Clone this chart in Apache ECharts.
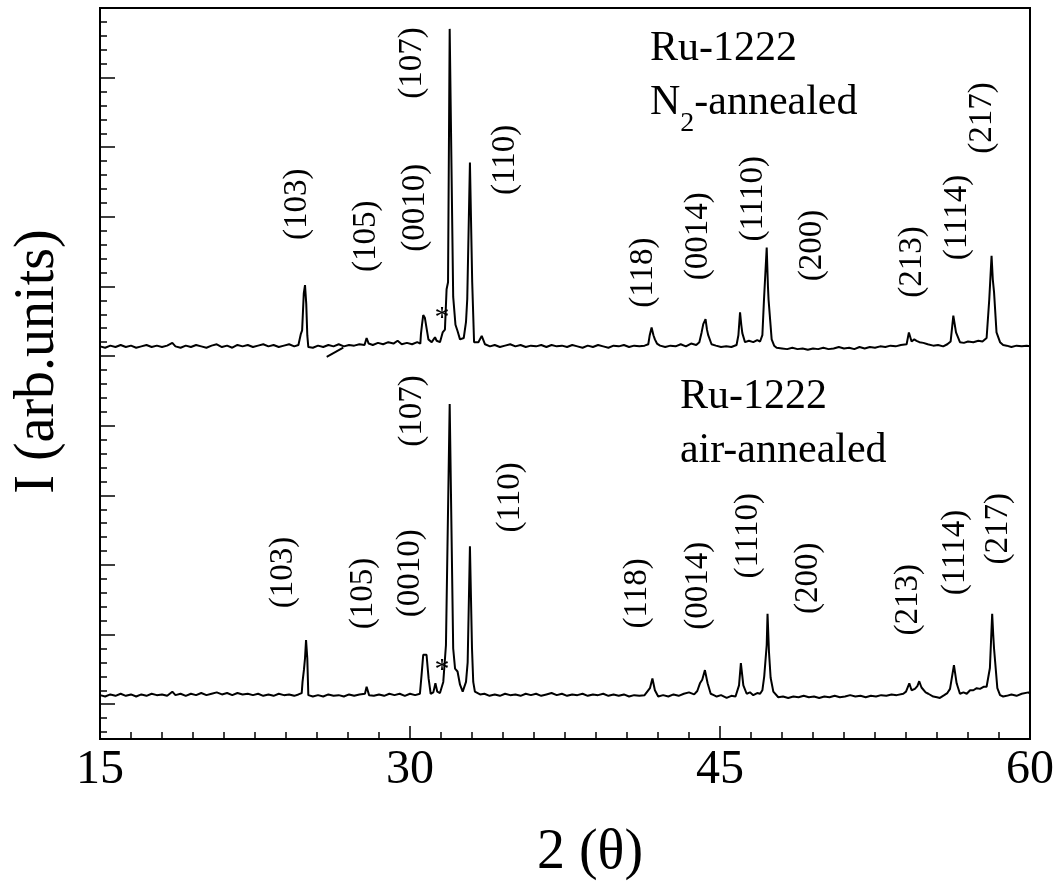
<!DOCTYPE html>
<html>
<head>
<meta charset="utf-8">
<title>Ru-1222 XRD</title>
<script src="https://cdn.jsdelivr.net/npm/echarts@6/dist/echarts.min.js"></script>
<style>
  html, body { margin: 0; padding: 0; background: #fff; }
  #chart { width: 1061px; height: 886px; }
</style>
</head>
<body>
<div id="chart"></div>
<script>
// 2theta (deg) vs intensity (arb. units), N2-annealed sample (upper trace)
const n2Trace = [
  [15.0,5.14],[15.25,5.12],[15.5,5.15],[15.75,5.13],[16.0,5.16],[16.25,5.13],[16.5,5.15],[16.75,5.12],
  [17.0,5.14],[17.25,5.16],[17.5,5.13],[17.75,5.15],[18.0,5.13],[18.25,5.15],[18.5,5.19],[18.65,5.14],
  [18.9,5.12],[19.15,5.15],[19.4,5.13],[19.65,5.16],[19.9,5.14],[20.15,5.12],[20.4,5.15],[20.65,5.17],
  [20.9,5.13],[21.15,5.15],[21.4,5.12],[21.65,5.16],[21.9,5.14],[22.15,5.16],[22.4,5.13],[22.65,5.15],
  [22.9,5.17],[23.15,5.14],[23.4,5.16],[23.65,5.13],[23.9,5.15],[24.15,5.17],[24.4,5.14],[24.6,5.16],
  [24.68,5.17],[24.72,5.32],[24.78,5.37],[24.86,5.9],[24.92,6.02],[24.98,5.75],[25.03,5.3],[25.08,5.13],
  [25.3,5.12],[25.55,5.15],[25.8,5.13],[26.05,5.16],[26.3,5.14],[26.55,5.17],[26.8,5.14],[27.05,5.16],
  [27.3,5.15],[27.55,5.17],[27.8,5.16],[27.9,5.26],[28.0,5.18],[28.2,5.16],[28.45,5.19],[28.7,5.17],
  [28.95,5.2],[29.2,5.18],[29.4,5.22],[29.6,5.17],[29.85,5.19],[30.1,5.17],[30.35,5.2],[30.5,5.18],
  [30.53,5.32],[30.58,5.45],[30.64,5.59],[30.72,5.55],[30.8,5.57],[30.89,5.24],[31.05,5.2],[31.21,5.27],
  [31.29,5.22],[31.45,5.2],[31.58,5.34],[31.69,5.38],[31.77,5.96],[31.84,6.06],[31.92,9.7],[32.09,5.85],
  [32.2,5.45],[32.3,5.36],[32.42,5.24],[32.5,5.22],[32.6,5.26],[32.71,5.49],[32.77,5.82],[32.9,7.78],
  [33.01,6.06],[33.1,5.2],[33.31,5.2],[33.47,5.29],[33.63,5.17],[33.87,5.14],
  [34.1,5.16],[34.35,5.13],[34.6,5.15],[34.85,5.17],[35.1,5.14],[35.35,5.16],[35.6,5.13],[35.85,5.15],
  [36.1,5.14],[36.35,5.16],[36.6,5.13],[36.85,5.16],[37.1,5.14],[37.35,5.15],[37.6,5.13],[37.85,5.16],
  [38.1,5.14],[38.35,5.12],[38.6,5.15],[38.85,5.13],[39.1,5.16],[39.35,5.14],[39.6,5.12],[39.85,5.15],
  [40.1,5.14],[40.35,5.16],[40.6,5.13],[40.85,5.15],[41.1,5.14],[41.35,5.15],
  [41.53,5.17],[41.6,5.3],[41.69,5.41],[41.78,5.3],[41.85,5.24],[41.95,5.18],[42.1,5.15],[42.35,5.13],
  [42.6,5.15],[42.85,5.14],[43.1,5.17],[43.35,5.14],[43.6,5.18],[43.85,5.16],[44.0,5.2],
  [44.11,5.34],[44.19,5.46],[44.3,5.53],[44.37,5.38],[44.43,5.3],[44.59,5.17],[44.8,5.15],[45.05,5.13],
  [45.3,5.14],[45.55,5.13],[45.8,5.16],
  [45.89,5.3],[45.97,5.63],[46.03,5.45],[46.08,5.33],[46.21,5.2],[46.4,5.22],[46.61,5.2],[46.8,5.23],
  [46.94,5.21],[47.05,5.3],[47.13,5.82],[47.26,6.56],[47.32,6.0],[47.35,5.81],[47.42,5.8],[47.5,5.24],
  [47.62,5.15],[47.74,5.12],
  [48.0,5.11],[48.25,5.1],[48.5,5.12],[48.75,5.1],[49.0,5.11],[49.25,5.09],[49.5,5.11],[49.75,5.1],
  [50.0,5.12],[50.25,5.1],[50.5,5.11],[50.75,5.13],[51.0,5.11],[51.25,5.12],[51.5,5.1],[51.75,5.13],
  [52.0,5.11],[52.25,5.13],[52.5,5.12],[52.75,5.14],[53.0,5.13],[53.25,5.15],[53.5,5.14],[53.75,5.16],
  [54.03,5.17],[54.14,5.34],[54.27,5.21],[54.4,5.24],[54.51,5.22],[54.65,5.2],[54.84,5.19],[55.05,5.17],
  [55.32,5.15],[55.55,5.16],[55.8,5.14],[56.0,5.17],[56.16,5.21],[56.29,5.58],[56.36,5.45],[56.42,5.34],
  [56.61,5.2],[56.8,5.19],[57.0,5.21],[57.26,5.2],[57.5,5.22],[57.7,5.21],[57.9,5.26],[58.03,5.82],
  [58.14,6.44],[58.2,6.1],[58.26,5.92],[58.32,5.9],[58.38,5.34],[58.55,5.2],[58.7,5.16],[58.87,5.15],
  [59.1,5.13],[59.35,5.15],[59.6,5.14],[59.84,5.15],[60.0,5.14]
];

// air-annealed sample (lower trace)
const airTrace = [
  [15.0,0.13],[15.25,0.11],[15.5,0.14],[15.75,0.12],[16.0,0.15],[16.25,0.12],[16.5,0.14],[16.75,0.11],
  [17.0,0.14],[17.25,0.12],[17.5,0.15],[17.75,0.13],[18.0,0.14],[18.25,0.12],[18.5,0.18],[18.65,0.13],
  [18.9,0.15],[19.15,0.12],[19.4,0.15],[19.65,0.13],[19.9,0.16],[20.15,0.13],[20.4,0.15],[20.65,0.17],
  [20.9,0.14],[21.15,0.16],[21.4,0.13],[21.65,0.16],[21.9,0.14],[22.15,0.15],[22.4,0.13],[22.65,0.15],
  [22.9,0.12],[23.15,0.14],[23.4,0.12],[23.65,0.15],[23.9,0.13],[24.15,0.14],[24.4,0.12],[24.6,0.14],
  [24.76,0.16],[24.8,0.32],[24.87,0.5],[24.92,0.66],[24.97,0.92],[25.03,0.66],[25.08,0.13],[25.3,0.11],
  [25.55,0.13],[25.8,0.11],[26.05,0.14],[26.3,0.12],[26.55,0.13],[26.8,0.11],[27.05,0.14],[27.3,0.12],
  [27.55,0.14],[27.82,0.15],[27.9,0.25],[28.02,0.13],[28.25,0.12],[28.5,0.14],[28.75,0.12],[29.0,0.15],
  [29.25,0.13],[29.5,0.15],[29.75,0.12],[30.0,0.15],[30.25,0.13],[30.48,0.15],
  [30.56,0.42],[30.64,0.71],[30.72,0.69],[30.8,0.71],[30.9,0.37],[31.0,0.15],[31.13,0.17],[31.23,0.3],
  [31.32,0.18],[31.45,0.16],[31.61,0.32],[31.74,0.85],[31.92,4.31],[32.09,0.8],[32.18,0.51],[32.3,0.47],
  [32.42,0.28],[32.55,0.18],[32.71,0.32],[32.79,0.6],[32.9,2.27],[33.0,0.8],[33.06,0.32],[33.14,0.18],
  [33.39,0.14],[33.6,0.15],[33.85,0.12],
  [34.1,0.14],[34.35,0.12],[34.6,0.15],[34.85,0.13],[35.1,0.14],[35.35,0.12],[35.6,0.15],[35.85,0.13],
  [36.1,0.15],[36.35,0.12],[36.6,0.14],[36.85,0.16],[37.1,0.13],[37.35,0.15],[37.6,0.12],[37.85,0.14],
  [38.1,0.13],[38.35,0.15],[38.6,0.12],[38.85,0.14],[39.1,0.13],[39.35,0.15],[39.6,0.12],[39.85,0.14],
  [40.1,0.12],[40.35,0.14],[40.6,0.11],[40.85,0.13],[41.1,0.12],[41.35,0.13],
  [41.61,0.23],[41.73,0.37],[41.85,0.2],[42.01,0.11],[42.25,0.13],[42.5,0.11],[42.75,0.14],[43.0,0.12],
  [43.25,0.15],[43.5,0.17],[43.75,0.14],[43.9,0.19],[44.03,0.3],[44.14,0.35],[44.27,0.49],[44.4,0.3],
  [44.55,0.15],[44.7,0.13],[44.84,0.11],[45.05,0.13],[45.32,0.09],[45.55,0.12],[45.75,0.11],
  [45.92,0.27],[46.01,0.59],[46.13,0.27],[46.29,0.15],[46.45,0.17],[46.61,0.13],[46.8,0.16],[46.94,0.15],
  [47.05,0.2],[47.14,0.4],[47.26,0.85],[47.3,1.3],[47.37,0.75],[47.45,0.38],[47.58,0.18],[47.82,0.1],
  [48.05,0.11],[48.3,0.09],[48.55,0.11],[48.8,0.1],[49.05,0.12],[49.3,0.1],[49.55,0.11],[49.8,0.09],
  [50.05,0.11],[50.3,0.1],[50.55,0.12],[50.8,0.1],[51.05,0.11],[51.3,0.13],[51.55,0.11],[51.8,0.12],
  [52.05,0.1],[52.3,0.12],[52.55,0.11],[52.8,0.13],[53.05,0.12],[53.3,0.14],[53.55,0.13],[53.87,0.15],
  [54.0,0.18],[54.16,0.3],[54.27,0.2],[54.43,0.22],[54.55,0.26],[54.64,0.33],[54.75,0.24],[54.84,0.22],
  [54.95,0.17],[55.08,0.15],[55.32,0.11],[55.5,0.1],[55.64,0.09],[55.85,0.13],[56.0,0.16],[56.13,0.22],
  [56.32,0.56],[56.45,0.3],[56.61,0.15],[56.78,0.17],[56.94,0.15],[57.1,0.2],[57.26,0.2],[57.42,0.23],
  [57.58,0.22],[57.75,0.25],[57.9,0.25],[58.06,0.52],[58.17,1.3],[58.22,1.0],[58.26,0.8],[58.32,0.78],
  [58.42,0.23],[58.55,0.13],[58.7,0.11],[58.87,0.12],[59.1,0.14],[59.35,0.12],[59.6,0.15],[59.92,0.17],
  [60.0,0.15]
];

// short stray stroke under the upper trace
const strayMark = [[25.97,4.99],[26.77,5.12]];

// Miller indices of the labelled reflections
const peakNames = ['(103)','(105)','(0010)','(107)','(110)','(118)','(0014)','(1110)','(200)','(213)','(1114)','(217)'];

// y ticks (arb. units)
const yMajorTicks = [0,1,2,3,4,5,6,7,8,9,10];

// --- layout: where the labels sit, in data coordinates ---
const n2LabelPos = [
  [24.53,7.18],[27.87,6.72],[30.24,7.13],[30.10,9.21],[34.60,7.82],[41.27,6.20],
  [43.94,6.72],[46.60,7.26],[49.45,6.59],[54.29,6.35],[56.47,6.99],[57.68,8.42]
];
const airLabelPos = [
  [23.85,1.89],[27.73,1.59],[30.00,1.88],[30.10,4.21],[34.84,2.97],[40.98,1.59],
  [43.94,1.70],[46.35,2.42],[49.26,1.81],[54.10,1.50],[56.37,2.18],[58.45,2.52]
];
const starPos = [[31.55,5.54],[31.55,0.49]];
const sampleText = [
  [41.61,9.41,'Ru-1222'],
  [41.61,8.63,'{n|N}{s|2}{n|-annealed}'],
  [43.06,4.41,'Ru-1222'],
  [43.06,3.64,'air-annealed']
];

const FONT = "'Liberation Serif', 'Times New Roman', serif";

const yMinorTicks = [];
for (let v = -0.4; v < 10; v += 0.2) {
  const r = Math.round(v * 10) / 10;
  if (Math.abs(r - Math.round(r)) > 0.01) yMinorTicks.push(r);
}

const peakData = function (pos) {
  return pos.map(function (p, i) { return [p[0], p[1], peakNames[i]]; });
};

const chart = echarts.init(document.getElementById('chart'), null, { renderer: 'canvas' });

chart.setOption({
  animation: false,
  backgroundColor: '#fff',
  grid: {
    left: 100, right: 31, top: 8, bottom: 145,
    show: true, borderColor: '#000', borderWidth: 2
  },
  xAxis: {
    type: 'value', min: 15, max: 60, interval: 15,
    axisLine: { onZero: false, lineStyle: { color: '#000', width: 2 } },
    axisTick: { inside: true, length: 13, lineStyle: { color: '#000', width: 1.5 } },
    minorTick: { show: true, splitNumber: 10, length: 7, lineStyle: { color: '#000', width: 1.5 } },
    axisLabel: { color: '#000', fontSize: 48, fontFamily: FONT, margin: 7 },
    splitLine: { show: false },
    name: '2 (θ)', nameLocation: 'middle', nameGap: 86,
    nameTextStyle: { color: '#000', fontSize: 56, fontFamily: FONT, padding: [0, 0, 0, 50] }
  },
  yAxis: [{
    type: 'value', min: -0.5, max: 10,
    axisLine: { onZero: false, lineStyle: { color: '#000', width: 2 } },
    axisTick: { inside: true, length: 15, customValues: yMajorTicks, lineStyle: { color: '#000', width: 1.5 } },
    axisLabel: { show: false },
    splitLine: { show: false },
    name: 'I (arb.units)', nameLocation: 'middle', nameGap: 34,
    nameTextStyle: { color: '#000', fontSize: 56, fontFamily: FONT, padding: [0, 0, 0, 24] }
  }, {
    type: 'value', min: -0.5, max: 10, position: 'left',
    axisLine: { show: false, onZero: false },
    axisTick: { inside: true, length: 7, customValues: yMinorTicks, lineStyle: { color: '#000', width: 1.5 } },
    axisLabel: { show: false },
    splitLine: { show: false }
  }],
  series: [{
    type: 'line', data: n2Trace, showSymbol: false, silent: true,
    lineStyle: { color: '#000', width: 2 }
  }, {
    type: 'line', data: airTrace, showSymbol: false, silent: true,
    lineStyle: { color: '#000', width: 2 }
  }, {
    type: 'line', data: strayMark, showSymbol: false, silent: true,
    lineStyle: { color: '#000', width: 2 }
  }, {
    type: 'scatter', symbolSize: 0, silent: true,
    itemStyle: { opacity: 1, color: '#000' },
    data: peakData(n2LabelPos).concat(peakData(airLabelPos)),
    label: {
      show: true, position: 'inside', rotate: 90,
      formatter: function (p) { return p.value[2]; },
      color: '#000', fontSize: 33, fontFamily: FONT
    }
  }, {
    type: 'scatter', symbolSize: 0, silent: true,
    itemStyle: { opacity: 1, color: '#000' },
    data: starPos,
    label: {
      show: true, position: 'inside', formatter: '*',
      color: '#000', fontSize: 30, fontFamily: FONT
    }
  }, {
    type: 'scatter', symbolSize: 0, silent: true,
    itemStyle: { opacity: 1, color: '#000' },
    data: sampleText,
    label: {
      show: true, position: 'right', distance: 0,
      formatter: function (p) { return p.value[2]; },
      color: '#000', fontSize: 42, fontFamily: FONT,
      rich: {
        n: { fontSize: 42, fontFamily: FONT, color: '#000', lineHeight: 42, verticalAlign: 'top' },
        s: { fontSize: 28, fontFamily: FONT, color: '#000', lineHeight: 28, padding: [27, 0, 0, 0], verticalAlign: 'top' }
      }
    }
  }]
});

window.onresize = function () {
  chart.resize();
};
</script>
</body>
</html>
